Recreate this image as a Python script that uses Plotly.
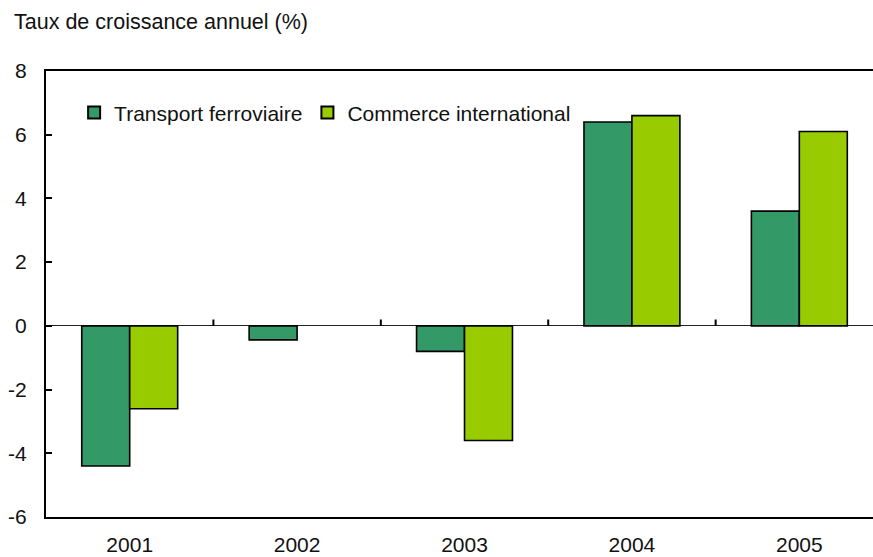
import plotly.graph_objects as go

# Annual growth rates (%)
years = ["2001", "2002", "2003", "2004", "2005"]
rail_transport = [-4.4, -0.44, -0.8, 6.4, 3.6]
world_trade = [-2.6, None, -3.6, 6.6, 6.1]

series_names = ["Transport ferroviaire", "Commerce international"]
series_colors = ["#339966", "#99CC00"]
y_ticks = [-6, -4, -2, 0, 2, 4, 6, 8]
y_tick_text = ["-6", "-4", "-2", "0", "2", "4", "6", "8"]

FONT = "Liberation Sans, Arial, sans-serif"

fig = go.Figure()
for name, values, color in zip(series_names, [rail_transport, world_trade], series_colors):
    fig.add_trace(go.Bar(
        x=years, y=values, name=name,
        marker=dict(color=color, line=dict(color="black", width=1.6)),
    ))

# small upward tick marks on the zero line between categories
for i in range(len(years) - 1):
    fig.add_shape(type="line", xref="x", yref="y",
                  x0=i + 0.5, x1=i + 0.5, y0=0, y1=0.2,
                  line=dict(color="black", width=2))

fig.update_layout(
    width=873, height=557,
    margin=dict(l=46, r=0, t=71, b=40, autoexpand=False),
    plot_bgcolor="white", paper_bgcolor="white",
    font=dict(family=FONT, size=21, color="#111111"),
    barmode="group", bargap=0.427, bargroupgap=0,
    showlegend=True,
    legend=dict(orientation="h", x=0.034, y=0.906, xanchor="left", yanchor="middle",
                bgcolor="rgba(0,0,0,0)", font=dict(size=21), itemsizing="constant"),
    annotations=[dict(text="Taux de croissance annuel (%)", xref="paper", yref="paper",
                      x=-34 / 827, y=1, xanchor="left", yanchor="bottom", yshift=35,
                      showarrow=False, font=dict(size=21.5))],
)

fig.update_xaxes(
    type="category", range=[-0.5, 4.44], automargin=False,
    showline=True, linecolor="black", linewidth=2, mirror=True,
    ticks="", showgrid=False, ticklabelstandoff=8,
)
fig.update_yaxes(
    range=[-6, 8], tickvals=y_ticks, ticktext=y_tick_text, automargin=False,
    showline=True, linecolor="black", linewidth=2,
    ticks="inside", ticklen=6, tickwidth=2, tickcolor="black",
    showgrid=False, zeroline=True, zerolinecolor="#222222", zerolinewidth=1.3,
    ticklabelstandoff=13,
)

fig.write_html("out.html")
